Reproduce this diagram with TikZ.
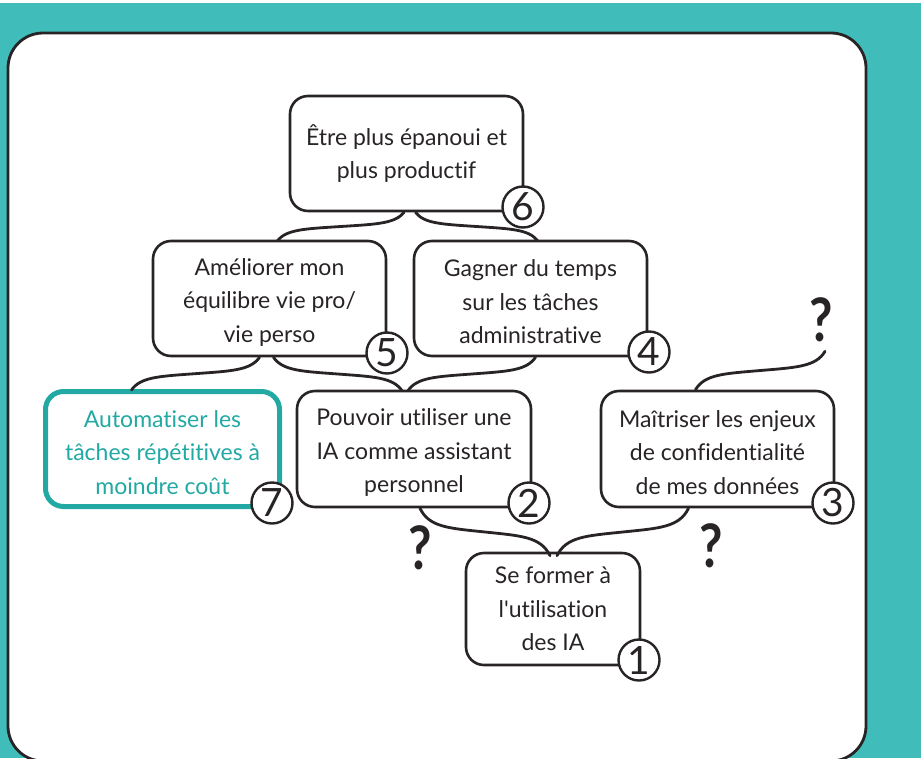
\documentclass[tikz,border=0pt]{standalone}
\usepackage{fontspec}
\setmainfont[Ligatures={NoCommon,TeXOff}]{Lato}
\usetikzlibrary{calc}
\definecolor{bgteal}{HTML}{40BDBA}
\definecolor{boxteal}{HTML}{22A9A3}
\definecolor{ink}{HTML}{282425}
\newcommand{\liftline}{\rule{0pt}{24pt}}
\tikzset{
  card/.style={draw=ink,line width=2.6pt,rounded corners=18pt,fill=white,text=ink,align=center,inner sep=0pt,font=\fontsize{23}{33.5}\selectfont},
  goal/.style={card,draw=boxteal,line width=5pt,text=boxteal},
  badge/.style={circle,draw=ink,line width=2.4pt,fill=white,text=ink,minimum size=41pt,inner sep=0pt,font=\fontsize{39}{39}\selectfont},
  query/.style={text=ink,inner sep=0pt,xscale=0.85,font=\fontsize{60}{60}\selectfont\bfseries},
  link/.style={draw=ink,line width=2.8pt,line cap=round}
}
\newcommand{\bracelink}[2]{%
  \draw[link] let \p1=(#1),\p2=(#2),\n1={\x2-\x1},\n2={\y2-\y1} in
    (\p1) .. controls ({\x1+0.07*\n1},{\y1+0.40*\n2}) and ({\x1+0.22*\n1},{\y1+0.42*\n2}) ..
    ({\x1+0.5*\n1},{\y1+0.5*\n2}) .. controls ({\x1+0.78*\n1},{\y1+0.58*\n2}) and ({\x1+0.93*\n1},{\y1+0.60*\n2}) ..
    (\p2);}
\begin{document}
\begin{tikzpicture}[x=1pt,y=-1pt]
\useasboundingbox (0,0) rectangle (921,758);
\fill[white] (0,0) rectangle (921,758);
\fill[bgteal] (0,3) rectangle (921,758);
\begin{scope}
\clip (0,0) rectangle (921,758);
\draw[draw=ink,line width=2.8pt,fill=white,rounded corners=35pt] (8,33) rectangle (866,761);
\end{scope}

\node[card,minimum width=233pt,minimum height=115pt] (n6) at (406.5,153.5) {Être plus épanoui et\\plus productif};
\node[card,minimum width=233pt,minimum height=115pt] (n5) at (269.5,298.5) {\liftline Améliorer mon\\équilibre vie pro/\\vie perso};
\node[card,minimum width=233pt,minimum height=115pt] (n4) at (530.5,298.5) {\liftline Gagner du temps\\sur les tâches\\administrative};
\node[goal,minimum width=234pt,minimum height=115pt] (n7) at (162.5,449) {\liftline Automatiser les\\tâches répétitives à\\moindre coût};
\node[card,minimum width=234pt,minimum height=116pt] (n2) at (414,449) {\liftline Pouvoir utiliser une\\IA comme assistant\\personnel};
\node[card,minimum width=233pt,minimum height=116pt] (n3) at (717.5,449) {\liftline Maîtriser les enjeux\\de confidentialité\\de mes données};
\node[card,minimum width=174pt,minimum height=112pt] (n1) at (553,609) {Se former à\\l'utilisation\\des IA};

\node[badge] (c6) at (523,207) {6};
\node[badge] (c5) at (387,353) {5};
\node[badge] (c4) at (649,352) {4};
\node[badge] (c7) at (272,503) {7};
\node[badge] (c2) at (529,503) {2};
\node[badge] (c3) at (833,503) {3};
\node[badge] (c1) at (639,660) {1};

\node[query] (q3) at (821,320) {?};
\node[query] (q2) at (420,548) {?};
\node[query] (q1) at (711,546) {?};

\bracelink{$(n6.south)+(-2.5pt,0)$}{$(n5.north)+(8pt,-1pt)$}
\bracelink{$(n6.south)+(9pt,0)$}{$(n4.north)+(7pt,-1pt)$}
\bracelink{$(n5.south)+(-10pt,0)$}{$(n7.north)+(-31pt,-1pt)$}
\bracelink{$(n5.south)+(4pt,0)$}{$(n2.north)+(-12pt,-1pt)$}
\bracelink{$(n4.south)+(5pt,0)$}{$(n2.north)+(-6pt,-1pt)$}
\bracelink{$(q3.south)+(4pt,-9pt)$}{$(n3.north)+(-22pt,0)$}
\bracelink{$(n2.south)+(6pt,0)$}{$(n1.north)+(-3pt,-4pt)$}
\bracelink{$(n3.south)+(-29pt,0)$}{$(n1.north)+(4pt,-4pt)$}
\end{tikzpicture}
\end{document}
